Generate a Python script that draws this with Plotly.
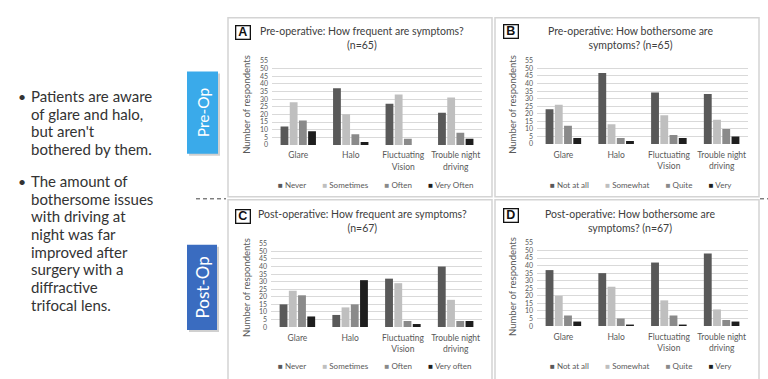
import plotly.graph_objects as go

W, H = 768, 379

categories = ["Glare", "Halo", "Fluctuating<br>Vision", "Trouble night<br>driving"]
y_ticks = list(range(0, 56, 5))

freq_labels_pre = ["Never", "Sometimes", "Often", "Very Often"]
freq_labels_post = ["Never", "Sometimes", "Often", "Very often"]
bother_labels = ["Not at all", "Somewhat", "Quite", "Very"]

# Panel A: Pre-operative, how frequent (n=65)
pre_freq_never = [12, 37, 27, 21]
pre_freq_sometimes = [28, 20, 33, 31]
pre_freq_often = [16, 7, 4, 8]
pre_freq_very = [9, 2, 0, 4]

# Panel B: Pre-operative, how bothersome (n=65)
pre_both_notatall = [23, 47, 34, 33]
pre_both_somewhat = [26, 13, 19, 16]
pre_both_quite = [12, 4, 6, 10]
pre_both_very = [4, 2, 4, 5]

# Panel C: Post-operative, how frequent (n=67)
post_freq_never = [15, 8, 32, 40]
post_freq_sometimes = [24, 13, 29, 18]
post_freq_often = [21, 15, 4, 4]
post_freq_very = [7, 31, 2, 4]

# Panel D: Post-operative, how bothersome (n=67)
post_both_notatall = [37, 35, 42, 48]
post_both_somewhat = [20, 26, 17, 11]
post_both_quite = [7, 5, 7, 4]
post_both_very = [3, 1, 1, 3]

bar_colors = ["#595959", "#bfbfbf", "#8a8a8a", "#1e1e1e"]

bullet1 = ["Patients are aware", "of glare and halo,", "but aren't", "bothered by them."]
bullet2 = ["The amount of", "bothersome issues", "with driving at", "night was far",
           "improved after", "surgery with a", "diffractive", "trifocal lens."]


def px(x):
    return x / W


def py(y):
    return 1 - y / H


panels = [
    dict(letter="A", title="Pre-operative: How frequent are symptoms?<br>(n=65)",
         labels=freq_labels_pre,
         series=[pre_freq_never, pre_freq_sometimes, pre_freq_often, pre_freq_very],
         plot=(272, 482, 57, 143), frame=(228, 492, 13, 196),
         box=(243, 28.5), title_pos=(362, 34), ytitle=(247, 102), legend_y=184),
    dict(letter="B", title="Pre-operative: How bothersome are<br>symptoms? (n=65)",
         labels=bother_labels,
         series=[pre_both_notatall, pre_both_somewhat, pre_both_quite, pre_both_very],
         plot=(537, 748, 57, 142), frame=(495, 759, 13, 196),
         box=(510.5, 27.5), title_pos=(630, 34), ytitle=(513, 102), legend_y=184),
    dict(letter="C", title="Post-operative: How frequent are symptoms?<br>(n=67)",
         labels=freq_labels_post,
         series=[post_freq_never, post_freq_sometimes, post_freq_often, post_freq_very],
         plot=(271, 482, 244, 329), frame=(228, 492, 199, 390),
         box=(243, 216), title_pos=(362, 221), ytitle=(247, 289), legend_y=369),
    dict(letter="D", title="Post-operative: How bothersome are<br>symptoms? (n=67)",
         labels=bother_labels,
         series=[post_both_notatall, post_both_somewhat, post_both_quite, post_both_very],
         plot=(537, 748, 243, 328), frame=(495, 759, 199, 390),
         box=(510.5, 215), title_pos=(630, 221), ytitle=(513, 288), legend_y=369),
]

FONT = "Lato, 'Open Sans', sans-serif"
AX_COLOR = "#595959"

fig = go.Figure()
layout = dict(
    width=W, height=H, autosize=False,
    margin=dict(l=0, r=0, t=0, b=0),
    paper_bgcolor="white", plot_bgcolor="rgba(0,0,0,0)",
    barmode="group", bargap=0.3, bargroupgap=0.15,
    showlegend=False,
    font=dict(family=FONT, color=AX_COLOR),
)

shapes = []
annotations = []

for i, p in enumerate(panels, start=1):
    sfx = "" if i == 1 else str(i)
    x0, x1, y0, y1 = p["plot"]
    for lab, vals, col in zip(p["labels"], p["series"], bar_colors):
        fig.add_trace(go.Bar(x=categories, y=vals, name=lab, marker_color=col,
                             marker_line_width=0,
                             xaxis="x" + sfx, yaxis="y" + sfx))
    layout["xaxis" + sfx] = dict(
        domain=[px(x0), px(x1)], anchor="y" + sfx,
        showgrid=False, zeroline=False, showline=False, ticks="",
        tickfont=dict(size=8.5, color=AX_COLOR, family=FONT),
        ticklabelstandoff=4, fixedrange=True,
    )
    layout["yaxis" + sfx] = dict(
        domain=[py(y1), py(y0)], anchor="x" + sfx,
        range=[0, 55], tickvals=y_ticks,
        showgrid=True, gridcolor="#d9d9d9", gridwidth=1,
        zeroline=False, showline=False, ticks="",
        tickfont=dict(size=7, color=AX_COLOR, family=FONT),
        ticklabelstandoff=3, fixedrange=True,
    )
    # panel frame
    fx0, fx1, fy0, fy1 = p["frame"]
    shapes.append(dict(type="rect", xref="paper", yref="paper",
                       x0=px(fx0), x1=px(fx1), y0=py(fy1), y1=py(fy0),
                       line=dict(color="#d4d4d4", width=1.5), fillcolor="rgba(0,0,0,0)",
                       layer="below"))
    # letter box
    bx, by = p["box"]
    annotations.append(dict(text="<b>%s</b>" % p["letter"], x=px(bx), y=py(by),
                            xref="paper", yref="paper", showarrow=False,
                            xanchor="center", yanchor="middle",
                            width=12, height=11, borderpad=0.5,
                            bordercolor="#111", borderwidth=1.3, bgcolor="white",
                            font=dict(family="Liberation Sans, Arial", size=12.5, color="#111")))
    # title
    tx, ty = p["title_pos"]
    annotations.append(dict(text=p["title"], x=px(tx), y=py(ty), xref="paper", yref="paper",
                            showarrow=False, xanchor="center", yanchor="middle", align="center",
                            font=dict(family=FONT, size=10.5, color="#404040")))
    # y title
    yx, yy = p["ytitle"]
    annotations.append(dict(text="Number of respondents", x=px(yx), y=py(yy),
                            xref="paper", yref="paper", showarrow=False, textangle=-90,
                            xanchor="center", yanchor="middle",
                            font=dict(family=FONT, size=9.5, color=AX_COLOR)))
    # legend
    gap = "\u00a0" * 8
    leg = gap.join("<span style='color:%s'>\u25a0</span>\u00a0%s" % (c, lab)
                   for c, lab in zip(bar_colors, p["labels"]))
    annotations.append(dict(text=leg, x=px((x0 + x1) / 2 - 2), y=py(p["legend_y"]),
                            xref="paper", yref="paper", showarrow=False,
                            xanchor="center", yanchor="middle",
                            font=dict(family=FONT, size=8, color=AX_COLOR)))

# Pre-Op / Post-Op boxes
for (bx0, bx1, by0, by1, col, label, fs) in [
    (187, 218, 68, 152, "#3aaaea", "Pre-Op", 15.5),
    (187, 217, 245, 332, "#3a6cc0", "Post-Op", 17),
]:
    shapes.append(dict(type="rect", xref="paper", yref="paper",
                       x0=px(bx0 + 2), x1=px(bx1 + 2), y0=py(by1 + 2), y1=py(by0 + 2),
                       line=dict(width=0), fillcolor="rgba(120,120,120,0.35)"))
    shapes.append(dict(type="rect", xref="paper", yref="paper",
                       x0=px(bx0), x1=px(bx1), y0=py(by1), y1=py(by0),
                       line=dict(width=0), fillcolor=col))
    annotations.append(dict(text=label, x=px((bx0 + bx1) / 2), y=py((by0 + by1) / 2),
                            xref="paper", yref="paper", showarrow=False, textangle=-90,
                            xanchor="center", yanchor="middle",
                            font=dict(family=FONT, size=fs, color="white")))

# dashed separator
for (lx0, lx1) in [(196, 226), (760, 768)]:
    shapes.append(dict(type="line", xref="paper", yref="paper",
                       x0=px(lx0), x1=px(lx1), y0=py(198), y1=py(198),
                       line=dict(color="#444", width=1, dash="4px,3px")))

# bullet text, one annotation per line
for lines, first_y in [(bullet1, 93), (bullet2, 180)]:
    for k, line in enumerate(lines):
        annotations.append(dict(text=line, x=px(29), y=py(first_y + k * 18),
                                xref="paper", yref="paper", showarrow=False,
                                xanchor="left", yanchor="middle", align="left",
                                font=dict(family=FONT, size=15, color="#333")))
    annotations.append(dict(text="\u2022", x=px(22), y=py(first_y),
                            xref="paper", yref="paper", showarrow=False,
                            xanchor="center", yanchor="middle",
                            font=dict(family=FONT, size=14, color="#333")))

layout["shapes"] = shapes
layout["annotations"] = annotations
fig.update_layout(**layout)
fig.write_html("out.html",
               config={"displayModeBar": False, "staticPlot": True},
               post_script="document.body.style.margin='0';document.body.style.padding='0';")
